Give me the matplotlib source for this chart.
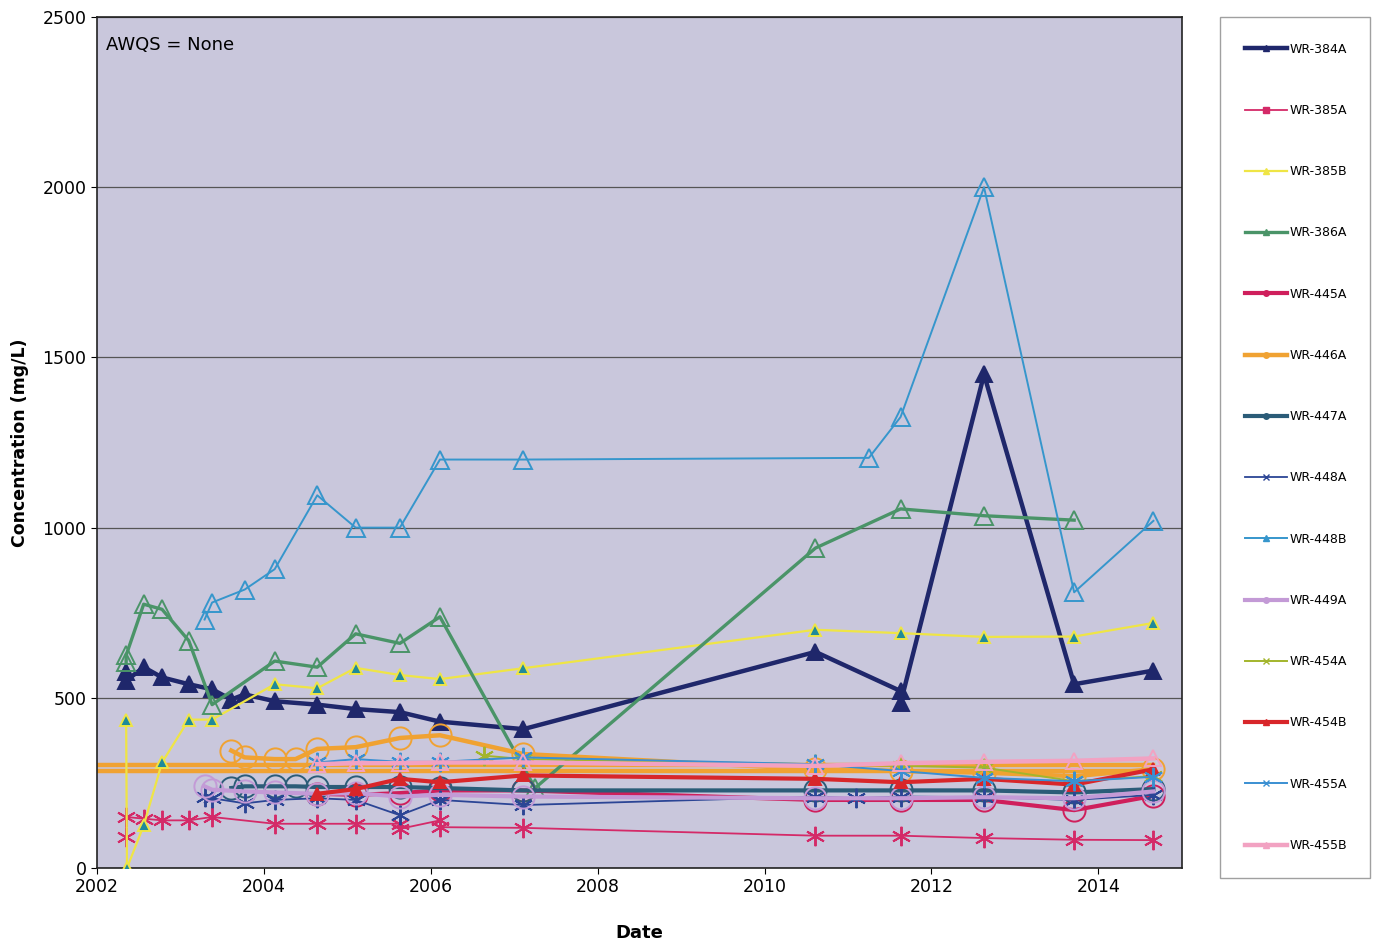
import numpy as np
import matplotlib
matplotlib.use("Agg")
import matplotlib.pyplot as plt
from matplotlib.lines import Line2D

# sampling data (decimal years, mg/L)
WR384A_X = [2002.35, 2002.35, 2002.56, 2002.78, 2003.10, 2003.38, 2003.61, 2003.77, 2004.13, 2004.64,
            2005.10, 2005.63, 2006.11, 2007.11, 2010.61, 2011.63, 2011.63, 2012.63, 2013.71, 2014.66]
WR384A_Y = [575, 550, 590, 560, 540, 525, 495, 510, 490, 480, 467, 458, 430, 408, 635, 520, 485, 1450, 540, 580]

WR385A_X = [2002.35, 2002.35, 2002.56, 2002.78, 2003.10, 2003.38, 2004.13, 2004.64, 2005.10, 2005.63,
            2005.63, 2006.11, 2006.11, 2007.11, 2010.61, 2011.63, 2012.63, 2013.71, 2014.66]
WR385A_Y = [90, 150, 145, 140, 140, 150, 130, 130, 130, 130, 115, 140, 120, 118, 95, 95, 88, 83, 82]

WR385B_X = [2002.35, 2002.36, 2002.56, 2002.78, 2003.10, 2003.38, 2004.13, 2004.64, 2005.10, 2005.63,
            2006.11, 2007.11, 2010.61, 2011.63, 2012.63, 2013.71, 2014.66]
WR385B_Y = [436, 0, 125, 310, 436, 436, 540, 528, 588, 567, 555, 587, 700, 690, 679, 680, 720]

WR386A_X = [2002.35, 2002.35, 2002.56, 2002.78, 2003.10, 2003.38, 2004.13, 2004.64, 2005.10, 2005.63,
            2006.11, 2007.25, 2010.61, 2011.63, 2012.63, 2013.71]
WR386A_Y = [605, 625, 775, 760, 668, 480, 608, 590, 688, 660, 738, 235, 940, 1055, 1035, 1022]

WR445A_X = [2004.64, 2005.10, 2005.63, 2006.11, 2007.11, 2010.61, 2011.63, 2012.63, 2013.71, 2014.66]
WR445A_Y = [218, 215, 220, 228, 228, 200, 200, 200, 170, 212]

WR446A_X = [2003.61, 2003.77, 2004.13, 2004.38, 2004.64, 2005.10, 2005.63, 2006.11, 2007.11, 2010.61,
            2011.63, 2012.63, 2013.71, 2014.66]
WR446A_Y = [345, 325, 320, 320, 350, 355, 382, 390, 335, 290, 285, 280, 270, 290]
# two flat orange traces running across the whole plot
WR446A_BAND_X = [2001.0, 2014.66]
WR446A_BAND_HI = [302, 302]
WR446A_BAND_LO = [285, 285]

WR447A_X = [2003.61, 2003.77, 2004.13, 2004.38, 2004.64, 2005.10, 2005.63, 2006.11, 2007.11, 2010.61,
            2011.63, 2012.63, 2013.71, 2014.66]
WR447A_Y = [235, 240, 240, 240, 238, 238, 238, 235, 228, 228, 228, 228, 222, 232]

WR448A_X = [2003.29, 2003.38, 2003.77, 2004.13, 2004.64, 2005.10, 2005.63, 2006.11, 2007.11, 2010.61,
            2011.09, 2011.63, 2012.63, 2013.71, 2014.66]
WR448A_Y = [210, 205, 190, 200, 205, 200, 155, 200, 185, 210, 205, 210, 208, 200, 215]

WR448B_X = [2003.29, 2003.38, 2003.77, 2004.13, 2004.64, 2005.10, 2005.63, 2006.11, 2007.11, 2011.25,
            2011.63, 2012.63, 2013.71, 2014.66]
WR448B_Y = [730, 780, 818, 878, 1095, 1000, 1000, 1200, 1200, 1205, 1325, 2000, 810, 1020]

WR449A_X = [2003.29, 2003.38, 2003.77, 2004.13, 2004.64, 2005.10, 2005.63, 2006.11, 2007.11, 2010.61,
            2011.63, 2012.63, 2013.71, 2014.66]
WR449A_Y = [240, 230, 225, 222, 218, 220, 210, 215, 210, 205, 205, 208, 205, 225]

WR454A_X = [2006.64, 2007.11, 2010.61, 2011.63, 2012.63, 2013.71, 2014.66]
WR454A_Y = [330, 320, 305, 300, 295, 255, 270]

WR454B_X = [2004.64, 2005.10, 2005.63, 2006.11, 2007.11, 2010.61, 2011.63, 2012.63, 2013.71, 2014.66]
WR454B_Y = [218, 232, 262, 252, 272, 262, 252, 262, 245, 290]

WR455A_X = [2004.64, 2005.10, 2005.63, 2006.11, 2007.11, 2010.61, 2011.63, 2012.63, 2013.71, 2014.66]
WR455A_Y = [310, 320, 312, 312, 325, 305, 285, 265, 255, 268]

WR455B_X = [2004.64, 2005.10, 2005.63, 2006.11, 2007.11, 2010.61, 2011.63, 2012.63, 2013.71, 2014.66]
WR455B_Y = [305, 308, 308, 310, 310, 300, 308, 312, 315, 322]

YEAR_TICKS = [2002, 2004, 2006, 2008, 2010, 2012, 2014]
CONC_TICKS = [0, 500, 1000, 1500, 2000, 2500]

ASTER = (6, 2, 0)

# name, x, y, color, linewidth, marker, marker size, face, edge, legend marker
SERIES = [
    ("WR-384A", WR384A_X, WR384A_Y, "#1f276b", 3.2, "^", 11, "#1f276b", "#1f276b", "^"),
    ("WR-385A", WR385A_X, WR385A_Y, "#d42a68", 1.3, ASTER, 14, "none", "#d42a68", "s"),
    ("WR-385B", WR385B_X, WR385B_Y, "#efe545", 1.6, "^", 8, "#1f8a9a", "#efe545", "^"),
    ("WR-386A", WR386A_X, WR386A_Y, "#4a9468", 2.4, "^", 13, "none", "#4a9468", "^"),
    ("WR-445A", WR445A_X, WR445A_Y, "#cf1f5c", 3.0, "o", 16, "none", "#cf1f5c", "o"),
    ("WR-446A", WR446A_X, WR446A_Y, "#f0a232", 3.2, "o", 16, "none", "#f0a232", "o"),
    ("WR-447A", WR447A_X, WR447A_Y, "#2b5c78", 3.0, "o", 16, "none", "#2b5c78", "o"),
    ("WR-448A", WR448A_X, WR448A_Y, "#2b4595", 1.3, ASTER, 14, "none", "#2b4595", "x"),
    ("WR-448B", WR448B_X, WR448B_Y, "#3696cc", 1.4, "^", 13, "none", "#3696cc", "^"),
    ("WR-449A", WR449A_X, WR449A_Y, "#c39ad6", 3.0, "o", 16, "none", "#c39ad6", "o"),
    ("WR-454A", WR454A_X, WR454A_Y, "#a3b52c", 1.4, ASTER, 14, "none", "#a3b52c", "x"),
    ("WR-454B", WR454B_X, WR454B_Y, "#d8262a", 3.0, "^", 9, "#d8262a", "#d8262a", "^"),
    ("WR-455A", WR455A_X, WR455A_Y, "#3a8fd2", 1.4, ASTER, 14, "none", "#3a8fd2", "x"),
    ("WR-455B", WR455B_X, WR455B_Y, "#f2a2c2", 3.2, "^", 12, "none", "#f2a2c2", "^"),
]

fig = plt.figure(figsize=(13.75, 9.47), dpi=100)
ax = fig.add_axes([0.0705, 0.0834, 0.789, 0.8986])
ax.set_facecolor("#c9c7dc")

ax.plot(WR446A_BAND_X, WR446A_BAND_HI, color="#f0a232", lw=3.2, zorder=2)
ax.plot(WR446A_BAND_X, WR446A_BAND_LO, color="#f0a232", lw=3.2, zorder=2)

handles = []
for name, xs, ys, col, lw, mk, ms, fc, ec, lmk in SERIES:
    ax.plot(xs, ys, color=col, lw=lw, marker=mk, ms=ms, mfc=fc, mec=ec, mew=1.4, zorder=3)
    handles.append(Line2D([0], [0], color=col, lw=lw, marker=lmk, ms=4, mfc=col, mec=col, label=name))

ax.set_xlim(2002, 2015)
ax.set_ylim(0, 2500)
ax.set_xticks(YEAR_TICKS)
ax.set_xticklabels([str(t) for t in YEAR_TICKS])
ax.set_yticks(CONC_TICKS)
ax.yaxis.grid(True, color="#555555", lw=0.9)
ax.set_axisbelow(True)
ax.tick_params(labelsize=12.5, length=4, direction="out")
for s in ax.spines.values():
    s.set_color("#222222")
    s.set_linewidth(1.2)

ax.set_xlabel("Date", fontsize=13, fontweight="bold", labelpad=20)
ax.set_ylabel("Concentration (mg/L)", fontsize=12.5, fontweight="bold", labelpad=10)
ax.text(0.008, 0.967, "AWQS = None", transform=ax.transAxes, fontsize=13, va="center", ha="left")

leg = fig.legend(handles=handles, loc="upper left", bbox_to_anchor=(0.887, 0.982, 0.109, 0.0),
                 mode="expand", frameon=True, fancybox=False, edgecolor="#888888", fontsize=9,
                 handlelength=3.3, handletextpad=0.25, labelspacing=3.86,
                 borderpad=2.05, borderaxespad=0)
leg.get_frame().set_linewidth(1.0)

fig.savefig("out.png", dpi=100, facecolor="white")
